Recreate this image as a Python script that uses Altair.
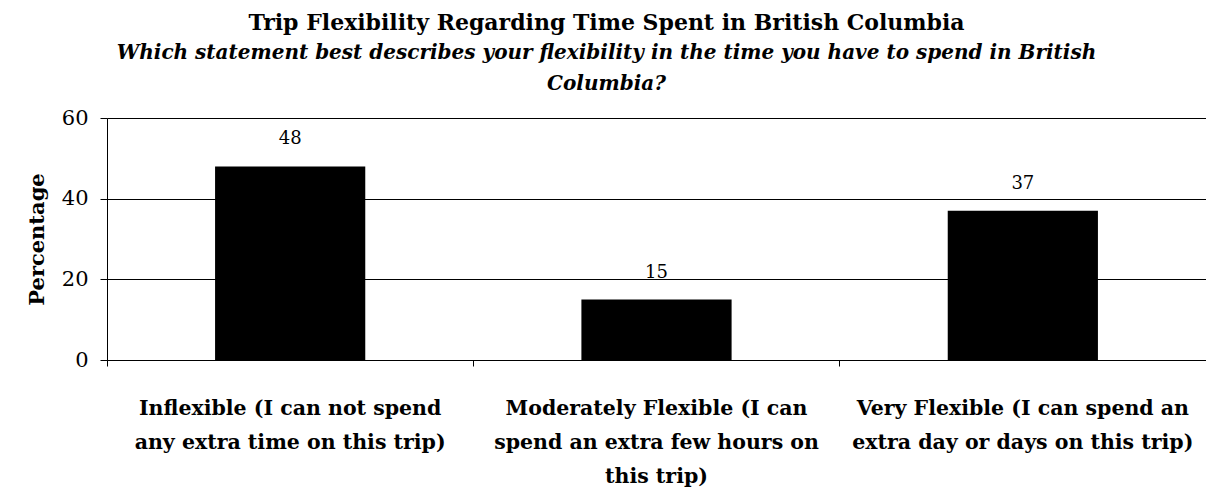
import altair as alt
import pandas as pd
import json

categories = [
    "Inflexible (I can not spend any extra time on this trip)",
    "Moderately Flexible (I can spend an extra few hours on this trip)",
    "Very Flexible (I can spend an extra day or days on this trip)",
]
label_lines = [
    ["Inflexible (I can not spend", "any extra time on this trip)"],
    ["Moderately Flexible (I can", "spend an extra few hours on", "this trip)"],
    ["Very Flexible (I can spend an", "extra day or days on this trip)"],
]
values = [48, 15, 37]
y_ticks = [0, 20, 40, 60]

df = pd.DataFrame({"cat": categories, "pct": values})

label_map = json.dumps(dict(zip(categories, label_lines)))

FONT = "DejaVu Serif"

base = alt.Chart(df).encode(
    x=alt.X(
        "cat:N",
        sort=categories,
        scale=alt.Scale(paddingInner=0, paddingOuter=0),
        axis=alt.Axis(
            title=None,
            labelAngle=0,
            labelExpr=f"{label_map}[datum.value]",
            labelFont=FONT,
            labelFontSize=20.5,
            labelFontWeight="bold",
            labelColor="black",
            labelLineHeight=34,
            labelPadding=32,
            labelBaseline="top",
            bandPosition=0,
            ticks=True,
            tickSize=6,
            tickColor="black",
            domainColor="black",
            labelLimit=400,
        ),
    ),
    y=alt.Y(
        "pct:Q",
        scale=alt.Scale(domain=[0, 60]),
        axis=alt.Axis(
            title="Percentage",
            values=y_ticks,
            titleFont=FONT,
            titleFontSize=21,
            titleFontWeight="bold",
            titleColor="black",
            titlePadding=14,
            labelFont=FONT,
            labelFontSize=21,
            labelColor="black",
            labelPadding=12,
            tickSize=7,
            tickColor="black",
            domainColor="black",
            gridColor="black",
            gridOpacity=1,
        ),
    ),
)

bars = base.mark_bar(color="black", width=alt.RelativeBandSize(0.41))
texts = base.mark_text(
    baseline="bottom", dy=-18, font=FONT, fontSize=18, color="black"
).encode(text=alt.Text("pct:Q", format=".0f"))

chart = (
    (bars + texts)
    .properties(
        width=1099,
        height=242,
        autosize=alt.AutoSizeParams(type="none"),
        padding={"left": 99, "top": 110, "right": 0, "bottom": 128},
        title=alt.TitleParams(
            text="Trip Flexibility Regarding Time Spent in British Columbia",
            subtitle=[
                "Which statement best describes your flexibility in the time you have to spend in British",
                "Columbia?",
            ],
            anchor="middle",
            dx=-50,
            font=FONT,
            fontSize=22,
            fontWeight="bold",
            color="black",
            subtitleFont=FONT,
            subtitleFontSize=20,
            subtitleFontStyle="italic",
            subtitleFontWeight="bold",
            subtitleColor="black",
            subtitleLineHeight=31,
            subtitlePadding=8,
            offset=12,
        ),
    )
    .configure_view(stroke="black", strokeWidth=1)
    .configure(background="white")
)

chart.save("out.html", embed_options={"renderer": "svg", "actions": False})
